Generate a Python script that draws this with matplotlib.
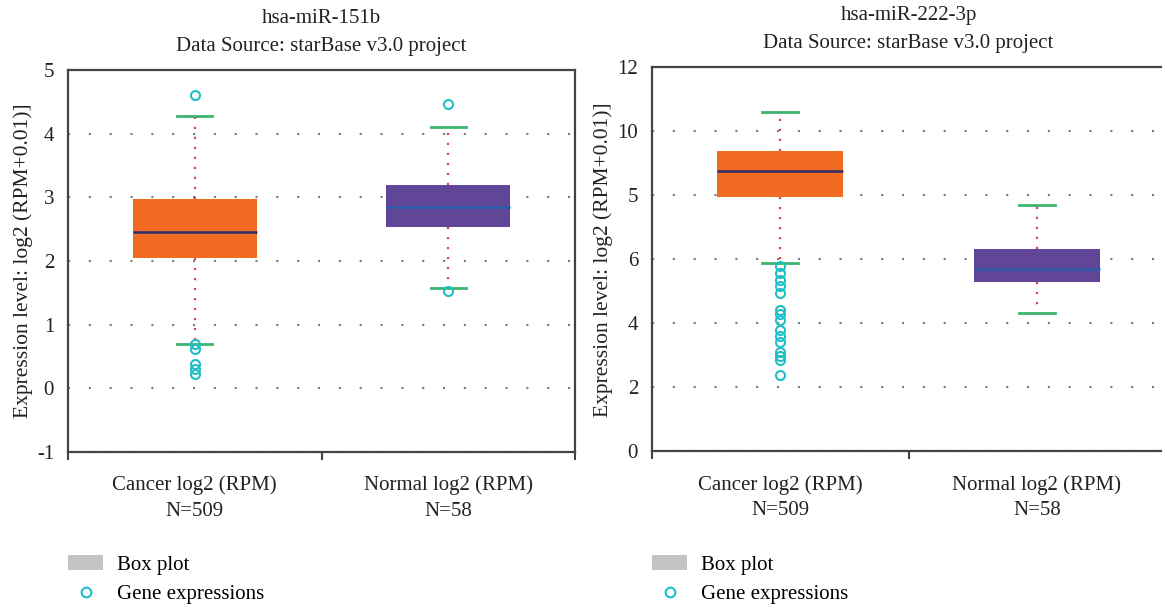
import matplotlib
matplotlib.use("Agg")
import matplotlib.pyplot as plt
from matplotlib.patches import Patch
from matplotlib.lines import Line2D

plt.rcParams['font.family'] = ['Liberation Serif', 'DejaVu Serif']

# ---- data ----
categories = ["Cancer log2 (RPM)\nN=509", "Normal log2 (RPM)\nN=58"]

titles = ["hsa-miR-151b\nData Source: starBase v3.0 project",
          "hsa-miR-222-3p\nData Source: starBase v3.0 project"]

# hsa-miR-151b
p1_whislo = [0.70, 1.58]
p1_q1 = [2.04, 2.53]
p1_med = [2.45, 2.85]
p1_q3 = [2.97, 3.19]
p1_whishi = [4.28, 4.11]
p1_fliers = [[4.61, 0.70, 0.62, 0.39, 0.30, 0.22], [4.47, 1.53]]
p1_yticks = [-1, 0, 1, 2, 3, 4, 5]
p1_yticklabels = ["-1", "0", "1", "2", "3", "4", "5"]

# hsa-miR-222-3p
p2_whislo = [5.87, 4.31]
p2_q1 = [7.93, 5.30]
p2_med = [8.75, 5.69]
p2_q3 = [9.37, 6.31]
p2_whishi = [10.59, 7.70]
p2_fliers = [[5.80, 5.56, 5.34, 5.15, 4.94, 4.42, 4.30, 4.09, 3.80, 3.60,
              3.41, 3.11, 2.97, 2.85, 2.38], []]
p2_yticks = [0, 2, 4, 6, 8, 10, 12]
p2_yticklabels = ["0", "2", "4", "6", "5", "10", "12"]

box_colors = ["#f26b22", "#614597"]
median_colors = ["#2b2a6a", "#2a5dab"]
cap_color = "#3cb46e"
whisker_color = "#d24a5a"
flier_color = "#1fbfc7"

W, H = 1162, 609
fig = plt.figure(figsize=(W / 100, H / 100), dpi=100)

panels = [
    dict(rect=[68 / W, 1 - 452 / H, 507 / W, 382 / H],
         whislo=p1_whislo, q1=p1_q1, med=p1_med, q3=p1_q3, whishi=p1_whishi,
         fliers=p1_fliers, yticks=p1_yticks, ylabels=p1_yticklabels,
         ylim=(-1, 5), title=titles[0], legx=68 / W),
    dict(rect=[652 / W, 1 - 451.4 / H, 513 / W, 384.4 / H],
         whislo=p2_whislo, q1=p2_q1, med=p2_med, q3=p2_q3, whishi=p2_whishi,
         fliers=p2_fliers, yticks=p2_yticks, ylabels=p2_yticklabels,
         ylim=(0, 12), title=titles[1], legx=652 / W),
]

FS = 15

for p in panels:
    ax = fig.add_axes(p["rect"])
    stats = []
    for i in range(2):
        stats.append(dict(whislo=p["whislo"][i], q1=p["q1"][i], med=p["med"][i],
                          q3=p["q3"][i], whishi=p["whishi"][i], fliers=p["fliers"][i]))
    bp = ax.bxp(stats, positions=[1, 2], widths=0.49, capwidths=0.14,
                patch_artist=True, showfliers=True,
                whiskerprops=dict(color=whisker_color, linestyle=(0, (1, 3.5)), linewidth=1.6),
                capprops=dict(color=cap_color, linewidth=2.0),
                flierprops=dict(marker='o', markerfacecolor='none',
                                markeredgecolor=flier_color, markersize=6.5,
                                markeredgewidth=1.5, linestyle='none'),
                manage_ticks=False)
    for i, b in enumerate(bp['boxes']):
        b.set_facecolor(box_colors[i])
        b.set_edgecolor(box_colors[i])
        b.set_linewidth(0)
        b.set_zorder(2)
    for i, m in enumerate(bp['medians']):
        m.set_color(median_colors[i])
        m.set_linewidth(1.8)
        m.set_zorder(3)
    for w in bp['whiskers']:
        w.set_zorder(1.5)

    ax.set_xlim(0.5, 2.5)
    ax.set_ylim(*p["ylim"])
    ax.set_yticks(p["yticks"])
    ax.set_yticklabels(p["ylabels"], fontsize=FS, color="#222222")
    ax.set_xticks([1, 2])
    ax.set_xticklabels(categories, fontsize=FS, color="#222222", linespacing=1.45)
    ax.set_xticks([0.5, 1.5, 2.5], minor=True)
    ax.tick_params(axis='x', which='major', length=0, pad=17)
    ax.tick_params(axis='x', which='minor', length=6, width=1.5, color="#444444", direction='out')
    ax.tick_params(axis='y', length=0, pad=10)
    ax.yaxis.grid(True, linestyle=(0, (1, 9)), color="#7a7a7a", linewidth=1.5)
    ax.set_axisbelow(True)
    for s in ax.spines.values():
        s.set_color("#444444")
        s.set_linewidth(1.6)
    ax.set_ylabel("Expression level: log2 (RPM+0.01)]", fontsize=15.5, color="#222222", labelpad=3)
    ax.set_title(p["title"], fontsize=FS, color="#222222", pad=14, linespacing=1.6)

    handles = [Patch(facecolor="#c4c4c4", edgecolor="none", label="Box plot"),
               Line2D([], [], marker='o', linestyle='none', markerfacecolor='none',
                      markeredgecolor=flier_color, markersize=7, markeredgewidth=1.5,
                      label="Gene expressions")]
    ax.legend(handles=handles, loc='upper left', bbox_to_anchor=(p["legx"], 0.088),
              bbox_transform=fig.transFigure, frameon=False, fontsize=FS,
              borderpad=0, borderaxespad=0, handlelength=1.7, handleheight=0.7,
              handletextpad=0.65, labelspacing=0.45)

fig.savefig("out.png", dpi=100)
